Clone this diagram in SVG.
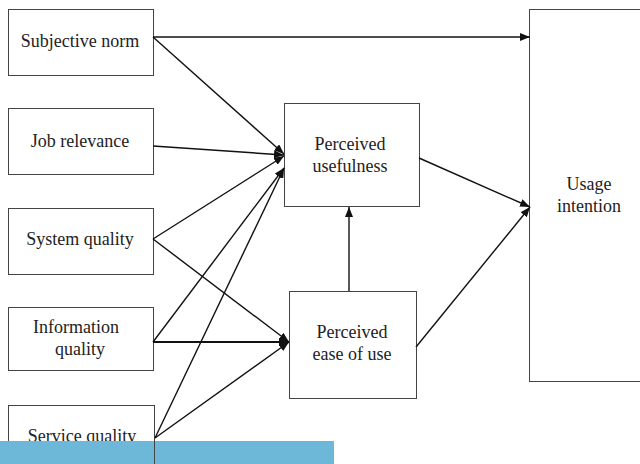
<svg xmlns="http://www.w3.org/2000/svg" width="640" height="464" viewBox="0 0 640 464">
<style>
.box{fill:#fff;stroke:#444;stroke-width:1}
.lbl{font-family:'Liberation Serif','DejaVu Serif',serif;font-size:18px;fill:#222;text-anchor:middle}
.c{stroke:#111;stroke-width:1.4;fill:none;marker-end:url(#ah)}
</style>
<defs>
<marker id="ah" viewBox="0 0 10 8" refX="10" refY="4" markerWidth="10" markerHeight="8" markerUnits="userSpaceOnUse" orient="auto">
<path d="M0,0 L10,4 L0,8 Z" fill="#111"/>
</marker>
</defs>
<rect width="640" height="464" fill="#fff"/>
<g id="n-subjective"><rect class="box" x="8.5" y="9.5" width="145" height="66"/><text class="lbl" x="80" y="47">Subjective norm</text></g>
<g id="n-job"><rect class="box" x="8.5" y="108.5" width="145" height="66"/><text class="lbl" x="80" y="147">Job relevance</text></g>
<g id="n-system"><rect class="box" x="8.5" y="208.5" width="145" height="66"/><text class="lbl" x="80" y="245">System quality</text></g>
<g id="n-info"><rect class="box" x="8.5" y="307.5" width="145" height="63"/><text class="lbl" x="76" y="333">Information</text><text class="lbl" x="80" y="355">quality</text></g>
<g id="n-service"><rect class="box" x="8.5" y="405.5" width="146" height="70"/><text class="lbl" x="82" y="442">Service quality</text></g>
<g id="n-pu"><rect class="box" x="284.5" y="103.5" width="135" height="103"/><text class="lbl" x="350" y="150">Perceived</text><text class="lbl" x="350" y="172">usefulness</text></g>
<g id="n-peou"><rect class="box" x="289.5" y="291.5" width="127" height="107"/><text class="lbl" x="352" y="338">Perceived</text><text class="lbl" x="352" y="360">ease of use</text></g>
<g id="n-ui"><rect class="box" x="529.5" y="9.5" width="120" height="372"/><text class="lbl" x="589" y="190">Usage</text><text class="lbl" x="589" y="212">intention</text></g>
<g id="connectors">
<path class="c" d="M153,37 L530,37"/>
<path class="c" d="M153,37 L284,154"/>
<path class="c" d="M153,146 L284,155"/>
<path class="c" d="M153,239 L284,156"/>
<path class="c" d="M153,342 L284,168"/>
<path class="c" d="M155,438 L284,168"/>
<path class="c" d="M153,239 L289,342"/>
<path class="c" d="M153,342 L289,342" style="stroke-width:2.2"/>
<path class="c" d="M155,438 L289,342"/>
<path class="c" d="M349,291 L349,207"/>
<path class="c" d="M419,158 L530,207"/>
<path class="c" d="M416,347 L530,207"/>
</g>
<rect x="0" y="441" width="334" height="23" fill="#6db8d8"/>
<line x1="154.5" y1="441" x2="154.5" y2="464" stroke="#444" stroke-width="1"/>
</svg>
